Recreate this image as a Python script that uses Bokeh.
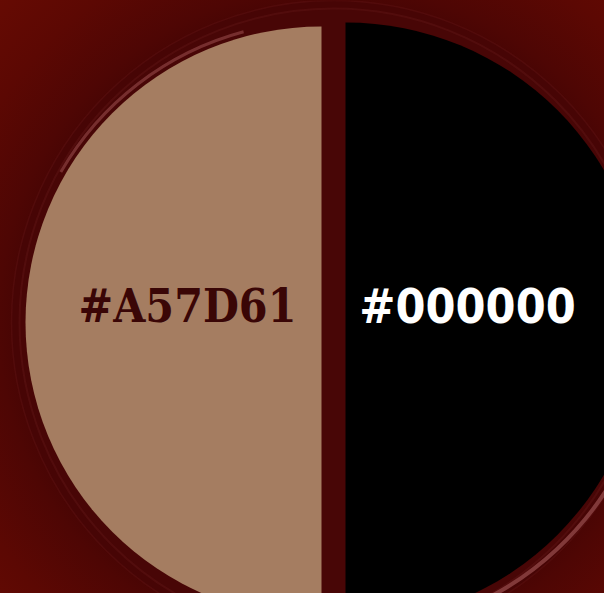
import math
from bokeh.plotting import figure
from bokeh.models import Range1d, GlobalInlineStyleSheet, ColumnDataSource
from bokeh.core.properties import value
from bokeh.embed import file_html
from bokeh.resources import INLINE

# ---- data ----
swatch_colors = ["#A57D61", "#000000"]
swatch_labels = ["#A57D61", "#000000"]
label_colors = ["#3a0606", "#ffffff"]

# ---- layout (image pixel coords, y downwards) ----
W, H = 604, 593
half_cx = [321, 345]
half_cy = 322
half_r = [296, 300]
half_start = [math.pi / 2, -math.pi / 2]
half_end = [3 * math.pi / 2, math.pi / 2]
label_x = [187, 467]
label_y = 305
label_fonts = ["DejaVu Serif Condensed", "DejaVu Sans Condensed"]
label_sizes = ["46px", "48px"]

p = figure(width=W, height=H, x_range=Range1d(0, W), y_range=Range1d(0, H),
           output_backend="svg", toolbar_location=None, min_border=0,
           x_axis_location=None, y_axis_location=None)
p.grid.visible = False
p.outline_line_color = None
p.background_fill_alpha = 0
p.border_fill_alpha = 0
p.stylesheets = [GlobalInlineStyleSheet(css=(
    "html,body{margin:0;padding:0;overflow:hidden;width:100%;height:100%;"
    "background:radial-gradient(circle at 333px 322px,#2a0000 0px,#430404 300px,"
    "#4e0604 335px,#5c0803 400px,#680b03 480px,#6c0c04 560px);}"))]

ring_cx, ring_cy = 333, H - half_cy
# outer shadow ring / base disk
p.circle(x=[ring_cx], y=[ring_cy], radius=322, fill_color="#470505",
         line_color="#5a1010", line_width=1.5, line_alpha=0.6)
p.circle(x=[ring_cx], y=[ring_cy], radius=314, fill_color="#480606",
         line_color="#5a1212", line_width=2, line_alpha=0.6)
# highlights on the bevel
p.arc(x=[half_cx[0]], y=[ring_cy], radius=301,
      start_angle=math.radians(105), end_angle=math.radians(150),
      line_color="#8a4040", line_width=3, line_alpha=0.7)
p.arc(x=[half_cx[1]], y=[ring_cy], radius=310,
      start_angle=math.radians(-72), end_angle=math.radians(-22),
      line_color="#9a5050", line_width=4, line_alpha=0.7)

src = ColumnDataSource(dict(x=half_cx, y=[H - half_cy] * 2, r=half_r,
                            s=half_start, e=half_end, c=swatch_colors))
p.wedge(x="x", y="y", radius="r", start_angle="s", end_angle="e",
        fill_color="c", line_color=None, source=src)

for lx, lab, col, fnt, fs in zip(label_x, swatch_labels, label_colors, label_fonts, label_sizes):
    p.text(x=[lx], y=[H - label_y], text=[lab], text_color=col,
           text_font=value(fnt), text_font_style="bold", text_font_size=fs,
           text_align="center", text_baseline="middle")

open("out.html", "w").write(file_html(p, INLINE))
